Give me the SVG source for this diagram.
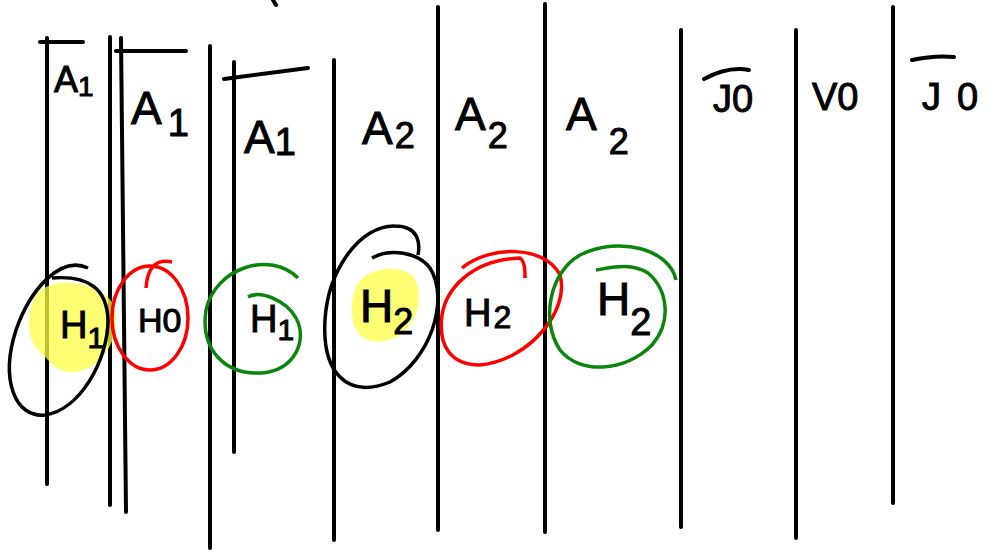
<svg xmlns="http://www.w3.org/2000/svg" width="997" height="550" viewBox="0 0 997 550">
<style>
.ln{stroke:#000;stroke-width:4;stroke-linecap:round;fill:none}
.blk{stroke:#000;stroke-width:3.5;fill:none}
.red{stroke:#f00;stroke-width:3.5;fill:none}
.grn{stroke:#0b850b;stroke-width:3.5;fill:none}
.hl{fill:#ffff44;opacity:0.75}
.t{font-family:"Liberation Sans","DejaVu Sans",sans-serif;fill:#000;stroke:#000;stroke-width:1}
.tb{font-size:46px}
.ts{font-size:38px}
</style>
<rect width="997" height="550" fill="#fff"/>
<g id="lines">
<path class="ln" d="M47 38V484"/>
<path class="ln" d="M110 37V505"/>
<path class="ln" d="M121 38L126 512"/>
<path class="ln" d="M210 46V548"/>
<path class="ln" d="M234 62V452"/>
<path class="ln" d="M334 60V540"/>
<path class="ln" d="M438 7V530"/>
<path class="ln" d="M545 4V532"/>
<path class="ln" d="M681 30V527"/>
<path class="ln" d="M796 30V538"/>
<path class="ln" d="M893 7V503"/>
<path class="ln" d="M273 0L276 5"/>
<path class="ln" d="M40 42H83"/>
<path class="ln" d="M116 51H186"/>
<path class="ln" d="M224 79L308 68"/>
</g>
<g id="labels">
<text class="t" x="54" y="92" font-size="36">A<tspan font-size="28" dy="4">1</tspan></text>
<text class="t tb" x="131" y="124">A<tspan dx="6" dy="12" font-size="38">1</tspan></text>
<text class="t tb" x="244" y="153">A<tspan dy="2" font-size="38">1</tspan></text>
<text class="t tb" x="362" y="144">A<tspan dx="2" dy="4" font-size="36">2</tspan></text>
<text class="t tb" x="455" y="130">A<tspan dx="2" dy="18" font-size="36">2</tspan></text>
<text class="t tb" x="566" y="130">A<tspan dx="12" dy="24" font-size="36">2</tspan></text>
<text class="t ts" x="713" y="112">J0</text>
<text class="t ts" x="812" y="110">V0</text>
<text class="t ts" x="922" y="110">J<tspan dx="16">0</tspan></text>
<path class="ln" d="M704 79Q728 66 749 70"/>
<path class="ln" d="M912 60Q935 55 954 57"/>
</g>
<g id="h1">
<path class="hl" d="M36 295C50 275 100 280 114 305C122 335 105 368 75 372C55 374 50 360 40 352C26 340 26 312 36 295Z"/>
<path class="blk" d="M88 268C60 255 30 290 16 330C0 380 15 418 45 415C80 410 108 360 108 320C107 290 90 275 52 278"/>
<text class="t ts" x="60" y="338" fill="#6b7000" stroke="#6b7000">H<tspan font-size="30" dy="10">1</tspan></text>
</g>
<g id="h0">
<ellipse class="red" cx="150" cy="318" rx="38" ry="52"/>
<path class="red" d="M146 288Q148 257 172 262"/>
<text class="t" font-size="34" x="138" y="332">H0</text>
</g>
<g id="h1b">
<path class="grn" d="M298 278C270 250 215 268 206 310C200 350 225 375 262 373C295 370 308 340 296 318C286 300 260 290 248 297"/>
<text class="t ts" x="250" y="332">H<tspan font-size="30" dy="8">1</tspan></text>
</g>
<g id="h2a">
<path class="hl" d="M355 290C360 270 395 262 412 275C425 290 420 320 400 335C385 345 360 345 354 325C350 310 352 300 355 290Z"/>
<path class="blk" d="M372 258C390 248 418 252 430 268C450 300 430 360 390 382C345 400 322 370 325 320C328 270 360 225 395 226C420 226 420 245 418 255"/>
<text class="t tb" x="360" y="322" fill="#6b7000" stroke="#6b7000">H<tspan font-size="36" dy="12">2</tspan></text>
</g>
<g id="h2b">
<path class="red" d="M462 268C490 245 545 245 560 275C570 310 530 360 480 365C450 365 438 345 442 315C446 290 470 260 520 258C525 262 525 270 525 278"/>
<text class="t ts" x="464" y="326">H<tspan font-size="32" dx="2" dy="2">2</tspan></text>
</g>
<g id="h2c">
<path class="grn" d="M676 280C670 250 620 235 580 255C550 272 540 320 560 350C580 375 625 372 652 345C672 322 668 290 648 273C630 262 610 268 596 270"/>
<text class="t tb" x="597" y="315">H<tspan font-size="38" dy="20">2</tspan></text>
</g>
</svg>
